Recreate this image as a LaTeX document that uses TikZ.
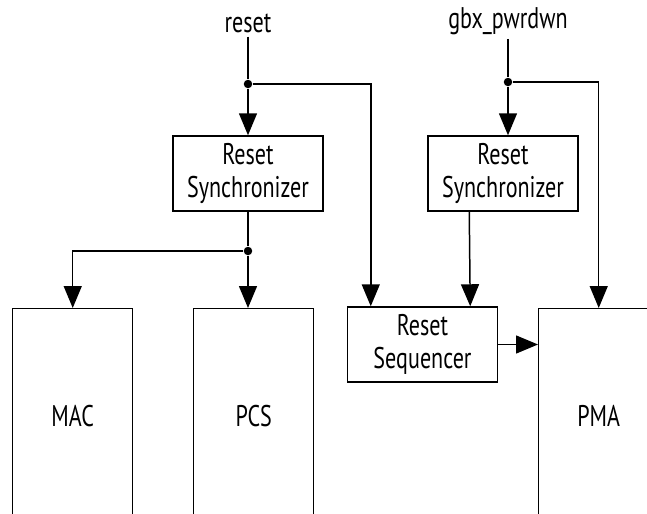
\documentclass[tikz,border=0pt]{standalone}
\usepackage{fontspec}
\setmainfont{PT Sans}[FakeStretch=0.74]
\usetikzlibrary{arrows.meta}

\begin{document}
\begin{tikzpicture}[x=0.02cm,y=-0.02cm,
  font=\fontsize{17}{19}\selectfont,
  line width=0.85pt,
  >={Triangle[length=0.44cm,width=0.36cm]},
  blk/.style={draw,rectangle,minimum width=3cm,minimum height=1.5cm,align=center,inner sep=0pt},
  big/.style={draw,rectangle,anchor=north west,minimum width=2.4cm,minimum height=4.3cm,inner sep=0pt},
  sig/.style={inner sep=2pt},
  dot/.style={circle,fill,inner sep=0pt,minimum size=0.17cm}]
\useasboundingbox (0,0) rectangle (647,514);
\clip (0,0) rectangle (647,514);

% inputs
\node[sig] (reset) at (248,23) {reset};
\node[sig] (gbx) at (508,21) {gbx\_pwrdwn};

\node[dot] (j1) at (248,84) {};
\node[dot] (j2) at (248,251) {};
\node[dot] (j3) at (508,82) {};

\node[blk] (sync1) at (248,173.5) {Reset\\Synchronizer};
\node[blk] (sync2) at (503,173.5) {Reset\\Synchronizer};
\node[blk] (seq) at (422.5,344.5) {Reset\\Sequencer};

% blocks run off the bottom edge
\node[big] (mac) at (12,308) {MAC};
\node[big] (pcs) at (193,308) {PCS};
\node[big] (pma) at (538,308) {PMA};

\draw (reset) -- (j1);
\draw[->] (j1) -- (sync1);
\draw[->] (j1) -| ([xshift=0.48cm]seq.north west);
\draw (sync1) -- (j2);
\draw[->] (j2) -- (pcs.north -| j2);
\draw[->] (j2) -| (mac.north);

\draw (gbx) -- (j3);
\draw[->] (j3) -- (sync2.north -| j3);
\draw[->] (j3) -| (pma.north);
\draw[->] ([xshift=0.84cm]sync2.south west) -- ([xshift=-0.56cm]seq.north east);
\draw[->] (seq.east) -- (seq.east -| pma.west);
\end{tikzpicture}
\end{document}
